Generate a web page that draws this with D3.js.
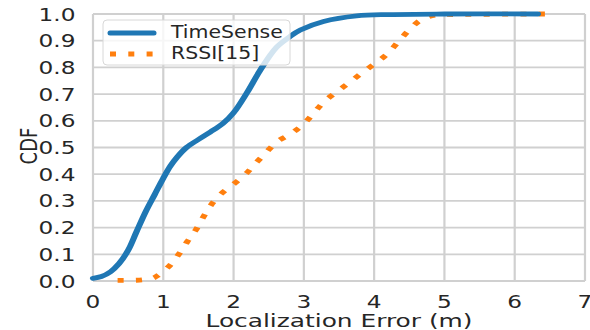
<!DOCTYPE html>
<html>
<head>
<meta charset="utf-8">
<script src="https://cdn.jsdelivr.net/npm/d3@7"></script>
<style>
  body { margin: 0; background: #fff; }
  text { font-family: "DejaVu Sans", sans-serif; fill: #262626; }
</style>
</head>
<body>
<div id="chart"></div>
<script>
// CDF of localization error
var timeSense = [
    [0, 0.01], [0.12, 0.017], [0.25, 0.035], [0.37, 0.065], [0.5, 0.115],
    [0.62, 0.185], [0.75, 0.26], [0.88, 0.325], [1.0, 0.385], [1.1, 0.43],
    [1.2, 0.465], [1.33, 0.5], [1.5, 0.53], [1.71, 0.565], [1.85, 0.59],
    [2.0, 0.63], [2.19, 0.705], [2.38, 0.79], [2.61, 0.875], [2.8, 0.915],
    [2.95, 0.94], [3.28, 0.972], [3.75, 0.993], [4.22, 0.998], [5, 1.0],
    [6.33, 1.0]
];
var rssi = [
    [0.35, 0.002], [0.7, 0.004], [0.85, 0.01], [0.93, 0.022], [1.1, 0.06],
    [1.22, 0.10], [1.34, 0.147], [1.46, 0.19], [1.57, 0.24], [1.68, 0.285],
    [1.82, 0.326], [2.0, 0.363], [2.17, 0.40], [2.31, 0.44], [2.46, 0.48],
    [2.61, 0.52], [2.83, 0.554], [3.0, 0.589], [3.14, 0.629], [3.29, 0.672],
    [3.47, 0.709], [3.65, 0.744], [3.83, 0.78], [4.02, 0.816], [4.19, 0.851],
    [4.33, 0.892], [4.48, 0.935], [4.65, 0.975], [4.87, 0.996], [5.2, 0.998],
    [6.43, 1.0]
];
var seriesNames = ["TimeSense", "RSSI[15]"];
var xTicks = [0, 1, 2, 3, 4, 5, 6, 7];
var yTicks = [0, 0.1, 0.2, 0.3, 0.4, 0.5, 0.6, 0.7, 0.8, 0.9, 1.0];

function drawChart() {
    var W = 590, H = 330;
    var margin = {left: 93, right: 585, top: 14, bottom: 281};
    var sx = 1.29; // figure looks stretched horizontally

    var x = d3.scaleLinear().domain([0, 7]).range([margin.left, margin.right]),
        y = d3.scaleLinear().domain([0, 1]).range([margin.bottom, margin.top]);
    // same x scale before the horizontal stretch, used for the curves
    var xs = d3.scaleLinear().domain([0, 7]).range([margin.left / sx, margin.right / sx]);

    var svg = d3.select("#chart").append("svg")
        .attr("width", W)
        .attr("height", H);

    // grid
    svg.append("g").selectAll("line")
        .data(xTicks)
        .enter().append("line")
        .attr("x1", function(d) { return x(d); })
        .attr("x2", function(d) { return x(d); })
        .attr("y1", margin.top).attr("y2", margin.bottom)
        .attr("stroke", "#d0d0d0").attr("stroke-width", 2.2);

    svg.append("g").selectAll("line")
        .data(yTicks)
        .enter().append("line")
        .attr("y1", function(d) { return y(d); })
        .attr("y2", function(d) { return y(d); })
        .attr("x1", margin.left).attr("x2", margin.right)
        .attr("stroke", "#d0d0d0").attr("stroke-width", 1.8);

    // tick labels
    svg.append("g").selectAll("text")
        .data(yTicks)
        .enter().append("text")
        .attr("transform", function(d) { return "translate(75.5," + (y(d) + 6.5) + ") scale(" + sx + ",1)"; })
        .attr("text-anchor", "end")
        .style("font-size", "18px")
        .text(function(d) { return d.toFixed(1); });

    svg.append("g").selectAll("text")
        .data(xTicks)
        .enter().append("text")
        .attr("transform", function(d) { return "translate(" + x(d) + ",307.5) scale(" + sx + ",1)"; })
        .attr("text-anchor", "middle")
        .style("font-size", "18px")
        .text(function(d) { return d; });

    // axis labels
    svg.append("text")
        .attr("transform", "translate(339,326.5) scale(1.38,1)")
        .attr("text-anchor", "middle")
        .style("font-size", "18px")
        .text("Localization Error (m)");

    svg.append("text")
        .attr("transform", "translate(28.5,146) scale(1.3,1) rotate(-90)")
        .attr("text-anchor", "middle")
        .attr("dy", "0.36em")
        .style("font-size", "18px")
        .text("CDF");

    // lines
    var line = d3.line()
        .x(function(d) { return xs(d[0]); })
        .y(function(d) { return y(d[1]); })
        .curve(d3.curveCatmullRom.alpha(0.5));

    var curves = svg.append("g")
        .attr("transform", "scale(" + sx + ",1)");

    curves.append("path")
        .datum(rssi)
        .attr("fill", "none")
        .attr("stroke", "#ff7f0e")
        .attr("stroke-width", 4.8)
        .attr("stroke-dasharray", "4.7,9.5")
        .attr("d", line);

    curves.append("path")
        .datum(timeSense)
        .attr("fill", "none")
        .attr("stroke", "#1f77b4")
        .attr("stroke-width", 4.8)
        .attr("stroke-linecap", "round")
        .attr("d", line);

    // legend
    var legend = svg.append("g");
    legend.append("rect")
        .attr("x", 103).attr("y", 20)
        .attr("width", 187).attr("height", 45)
        .attr("rx", 4)
        .attr("fill", "#fff").attr("fill-opacity", 0.8)
        .attr("stroke", "#d8d8d8").attr("stroke-width", 1);

    legend.append("line")
        .attr("x1", 110).attr("x2", 154).attr("y1", 33).attr("y2", 33)
        .attr("stroke", "#1f77b4").attr("stroke-width", 5)
        .attr("stroke-linecap", "round");
    legend.append("line")
        .attr("x1", 110).attr("x2", 156).attr("y1", 54).attr("y2", 54)
        .attr("stroke", "#ff7f0e").attr("stroke-width", 5)
        .attr("stroke-dasharray", "6,12.3");

    legend.selectAll("text")
        .data(seriesNames)
        .enter().append("text")
        .attr("transform", function(d, i) { return "translate(171," + (38 + i * 21) + ") scale(1.17,1)"; })
        .style("font-size", "17.5px")
        .text(function(d) { return d; });
}

drawChart();
</script>
</body>
</html>
